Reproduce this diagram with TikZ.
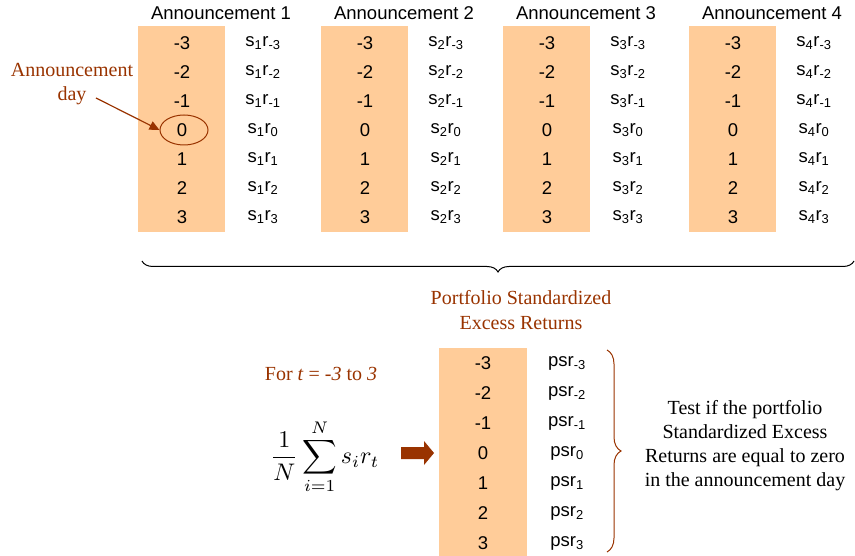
\documentclass[tikz,border=0pt]{standalone}
\usepackage{graphicx}
\usepackage{fontspec}
\setmainfont{Liberation Serif}
\newfontfamily\arialf{Liberation Sans}
\usetikzlibrary{shapes.geometric,decorations.pathreplacing,arrows.meta}
\definecolor{peach}{HTML}{FFCC99}
\definecolor{brn}{HTML}{993300}
\tikzset{
  tbl/.style={font=\arialf\fontsize{18.5}{21}\selectfont, inner sep=0pt},
  ser/.style={font=\fontsize{20}{24}\selectfont, inner sep=0pt, align=center},
  colbg/.style={fill=peach, anchor=north west, inner sep=0pt},
}
\begin{document}
\begin{tikzpicture}[x=1pt,y=-1pt]
\useasboundingbox (0,0) rectangle (855,556);
% top columns
\foreach \k/\L in {1/138,2/321,3/503,4/689}{
  \node[colbg, minimum width=87pt, minimum height=206pt] (bg\k) at (\L,26) {};
  \node[tbl] (h\k) at ({\L+83},13) {Announcement \k};
  \foreach \rw [count=\i from 0] in {-3,-2,-1,0,1,2,3}{
    \node[tbl] (n\k-\i) at ({\L+44},{43+29*\i}) {\rw};
    \node[tbl] (s\k-\i) at ({\L+125},{43+29*\i}) {s\textsubscript{\k}r\textsubscript{\rw}};
  }
}
% announcement day
\node[ser, text=brn] (adl) at (72,84) {Announcement\\day};
\node[draw=brn, line width=1pt, ellipse, minimum width=48pt, minimum height=30pt, inner sep=0pt] (ell) at (184,130) {};
\coordinate (adS) at (96,98);
\draw[brn, line width=1.2pt, -{Triangle[length=10pt,width=9pt]}] (adS) -- (ell.west);
% top brace
\coordinate (tbL) at (142,261);
\coordinate (tbR) at (854,261);
\draw[line width=1pt, decorate, decoration={brace, mirror, amplitude=11pt}] (tbL) -- (tbR);
% portfolio title
\node[ser, text=brn, font=\fontsize{20}{25}\selectfont] (ptitle) at (521,310) {Portfolio Standardized\\Excess Returns};
% bottom column
\node[colbg, minimum width=88pt, minimum height=208pt] (pbg) at (439,348) {};
\foreach \rw [count=\i from 0] in {-3,-2,-1,0,1,2,3}{
  \node[tbl] (pn\i) at (483,{363+30*\i}) {\rw};
  \node[tbl] (ps\i) at (567,{363+30*\i}) {psr\textsubscript{\rw}};
}
% for t
\node[ser, text=brn] (fort) at (321,374) {For \textit{t} = \textit{-3} to \textit{3}};
% formula
\node[inner sep=0pt] (frm) at (325,457) {\scalebox{2.4}{$\displaystyle \frac{1}{N}\sum_{i=1}^{N} s_i r_t$}};
% block arrow
\fill[brn] (401,447) -- (424,447) -- (424,441) -- (434,453) -- (424,465) -- (424,459) -- (401,459) -- cycle;
% right brace
\coordinate (rbT) at (607,350);
\coordinate (rbB) at (607,552);
\draw[brn, line width=1pt, decorate, decoration={brace, amplitude=14pt}] (rbT) -- (rbB);
% test text
\node[ser] (test) at (745,446) {Test if the portfolio\\Standardized Excess\\Returns are equal to zero\\in the announcement day};
\end{tikzpicture}
\end{document}
